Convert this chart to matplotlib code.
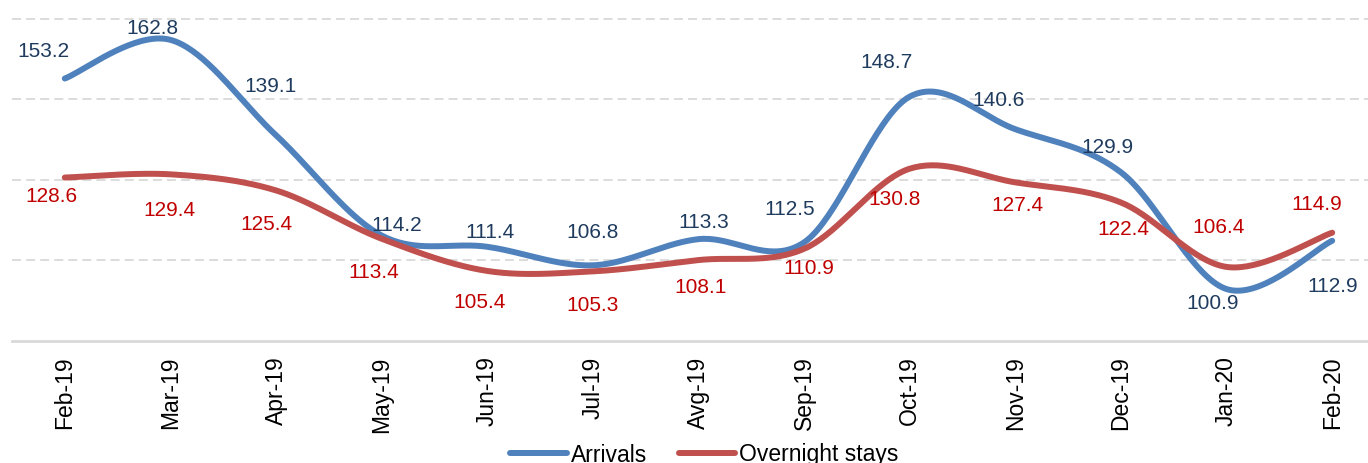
import numpy as np
import matplotlib.pyplot as plt

plt.rcParams['font.family'] = ['Liberation Sans', 'DejaVu Sans']

months = ['Feb-19', 'Mar-19', 'Apr-19', 'May-19', 'Jun-19', 'Jul-19', 'Avg-19',
          'Sep-19', 'Oct-19', 'Nov-19', 'Dec-19', 'Jan-20', 'Feb-20']
arrivals = [153.2, 162.8, 139.1, 114.2, 111.4, 106.8, 113.3, 112.5, 148.7, 140.6, 129.9, 100.9, 112.9]
overnight = [128.6, 129.4, 125.4, 113.4, 105.4, 105.3, 108.1, 110.9, 130.8, 127.4, 122.4, 106.4, 114.9]

# data label offsets from the point, in pixels (dx, dy up)
arr_dx = [-21, -18, -6, 15, 3, 0, 5, -14, -23, -17, -14, -14, 0]
arr_dy = [27, 11, 49, 10, 14, 33, 17, 33, 34, 29, 25, -14, -46]
ovn_dx = [-13, -1, -10, -8, -8, 0, 2, 5, -15, 2, 2, -8, -15]
ovn_dy = [-19, -36, -34, -34, -32, -34, -27, -20, -31, -23, -27, 39, 28]


def smooth(y, n=40):
    # bezier smoothing like the spreadsheet "smoothed line"
    y = np.asarray(y, float)
    x = np.arange(len(y), dtype=float)
    pts = np.column_stack([x, y])
    ext = np.vstack([pts[0], pts, pts[-1]])
    out = []
    t = np.linspace(0, 1, n)[:, None]
    for i in range(len(pts) - 1):
        p0 = ext[i + 1]
        p3 = ext[i + 2]
        c1 = p0 + (ext[i + 2] - ext[i]) / 6
        c2 = p3 - (ext[i + 3] - ext[i + 1]) / 6
        seg = (1 - t) ** 3 * p0 + 3 * (1 - t) ** 2 * t * c1 + 3 * (1 - t) * t ** 2 * c2 + t ** 3 * p3
        out.append(seg)
    s = np.vstack(out)
    return s[:, 0], s[:, 1]


fig = plt.figure(figsize=(13.68, 4.63), dpi=100)
ax = fig.add_axes([12 / 1368, 1 - 341 / 463, 1373 / 1368, 341 / 463])

blue = '#4F81BD'
red = '#C0504D'

xs, ys = smooth(arrivals)
ax.plot(xs, ys, color=blue, lw=4.3, solid_capstyle='round', label='Arrivals', zorder=3)
xs, ys = smooth(overnight)
ax.plot(xs, ys, color=red, lw=4.3, solid_capstyle='round', label='Overnight stays', zorder=3)

for i, v in enumerate(arrivals):
    ax.annotate(f'{v:.1f}', (i, v), xytext=(arr_dx[i], arr_dy[i]),
                textcoords='offset pixels', ha='center', va='center',
                fontsize=15, color='#1F3B5E', zorder=4)
for i, v in enumerate(overnight):
    ax.annotate(f'{v:.1f}', (i, v), xytext=(ovn_dx[i], ovn_dy[i]),
                textcoords='offset pixels', ha='center', va='center',
                fontsize=15, color='#C00000', zorder=4)

ax.set_xlim(-0.5, len(months) - 0.5)
ax.set_ylim(88, 172.7)
ax.set_yticks([108, 128, 148, 168])
ax.yaxis.grid(True, color='#D9D9D9', ls=(0, (5, 2.8)), lw=1.3)
ax.set_axisbelow(True)
ax.tick_params(axis='y', left=False, labelleft=False)
ax.set_xticks(range(len(months)))
ax.set_xticklabels(months, rotation=90, fontsize=16.5)
ax.tick_params(axis='x', length=0, pad=11)
for s in ['top', 'right', 'left']:
    ax.spines[s].set_visible(False)
ax.spines['bottom'].set_color('#D9D9D9')
ax.spines['bottom'].set_linewidth(2)

fig.legend(loc='center', bbox_to_anchor=(0.515, 1 - 455 / 463), ncol=2, frameon=False,
           fontsize=16.5, handlelength=2.45, columnspacing=1.4, handletextpad=0.18)

fig.savefig('out.png', dpi=100)
